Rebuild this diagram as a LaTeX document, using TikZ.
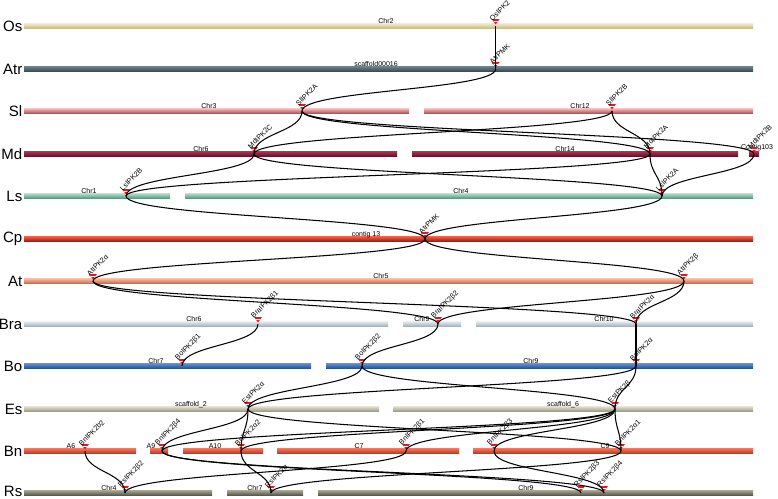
\documentclass[tikz,border=0pt]{standalone}
\usepackage{fontspec}
\setmainfont{Liberation Sans}
\usetikzlibrary{calc}
\definecolor{mk}{HTML}{E8141E}
\definecolor{osA}{HTML}{F0E6C0}\definecolor{osB}{HTML}{C8BA8C}
\definecolor{atrA}{HTML}{6A7E88}\definecolor{atrB}{HTML}{3A4A52}
\definecolor{slA}{HTML}{F8B4B4}\definecolor{slB}{HTML}{A8505A}
\definecolor{mdA}{HTML}{A8304E}\definecolor{mdB}{HTML}{5E1428}
\definecolor{lsA}{HTML}{A8DCC6}\definecolor{lsB}{HTML}{5C9480}
\definecolor{cpA}{HTML}{F05A40}\definecolor{cpB}{HTML}{9A1A14}
\definecolor{atA}{HTML}{F8B89C}\definecolor{atB}{HTML}{CC6A4C}
\definecolor{braA}{HTML}{E2E8EC}\definecolor{braB}{HTML}{A4B0B8}
\definecolor{boA}{HTML}{5A8CD8}\definecolor{boB}{HTML}{28508E}
\definecolor{esA}{HTML}{DEDCCC}\definecolor{esB}{HTML}{9C9A84}
\definecolor{bnA}{HTML}{F27058}\definecolor{bnB}{HTML}{B83A28}
\definecolor{rsA}{HTML}{A0A08C}\definecolor{rsB}{HTML}{55564A}
\tikzset{
  sp/.style={anchor=east, font=\fontsize{15}{15}\selectfont, inner sep=0pt},
  chrl/.style={anchor=base, font=\fontsize{7}{7}\selectfont, inner sep=0pt},
  genel/.style={anchor=south west, rotate=45, font=\fontsize{7.2}{7.2}\selectfont, inner sep=0pt},
  link/.style={draw=black, line width=1.05pt},
  marker/.style={fill=mk, draw=none}
}
% bar: #1 y, #2 x1, #3 x2, #4 light colour, #5 dark colour
\newcommand\mybar[5]{\shade[top color=#4, bottom color=#5] (#2,#1-2.3) rectangle (#3,#1+2.3);}
\newcommand\mygene[4]{% #1 name #2 x #3 y #4 label
  \coordinate (#1) at (#2,#3);
  \fill[marker] (#2-3.8,#3-6.8) -- (#2+3.8,#3-6.8) -- (#2,#3-1.6) -- cycle;
  \draw[white, line width=0.4pt] (#2-1.9,#3-4.9) -- (#2+1.9,#3-4.9);
  \node[genel] (#1l) at (#2-3,#3-4.5) {#4};}
\newcommand\lnk[2]{\path (#1) -- (#2) coordinate[pos=.5] (mid);
  \draw[link] (#1) .. controls (mid -| #1) and (mid -| #2) .. (#2);}
\begin{document}
\begin{tikzpicture}[x=1pt,y=-1pt]
\useasboundingbox (0,0) rectangle (778,498);
% species labels
\foreach \n/\y in {Os/26,Atr/69,Sl/111,Md/154,Ls/196,Cp/239,At/281,Bra/324,Bo/366,Es/409,Bn/451,Rs/491}
  \node[sp] (sp\n) at (22.5,\y) {\n};
% bars
\mybar{26}{24}{753}{osA}{osB}
\mybar{69}{24}{753}{atrA}{atrB}
\mybar{111}{24}{409}{slA}{slB}\mybar{111}{424}{753}{slA}{slB}
\mybar{154}{24}{397}{mdA}{mdB}\mybar{154}{412}{738}{mdA}{mdB}\mybar{154}{749}{759}{mdA}{mdB}
\mybar{196}{24}{170}{lsA}{lsB}\mybar{196}{185}{753}{lsA}{lsB}
\mybar{239}{24}{753}{cpA}{cpB}
\mybar{281}{24}{753}{atA}{atB}
\mybar{324}{24}{388}{braA}{braB}\mybar{324}{403}{461}{braA}{braB}\mybar{324}{476}{753}{braA}{braB}
\mybar{366}{24}{311}{boA}{boB}\mybar{366}{326}{753}{boA}{boB}
\mybar{409}{24}{379}{esA}{esB}\mybar{409}{393}{753}{esA}{esB}
\mybar{451}{24}{136}{bnA}{bnB}\mybar{451}{150}{168}{bnA}{bnB}\mybar{451}{183}{263}{bnA}{bnB}\mybar{451}{277}{459}{bnA}{bnB}\mybar{451}{473}{753}{bnA}{bnB}
\mybar{493}{24}{212}{rsA}{rsB}\mybar{493}{227}{303}{rsA}{rsB}\mybar{493}{318}{753}{rsA}{rsB}
% chromosome labels
\foreach \t/\x/\y [count=\i] in {Chr2/386/23, scaffold00016/376/66, Chr3/209/108, Chr12/580/108,
  Chr6/201/151, Chr14/565/151, Contig103/757/149, Chr1/89/193, Chr4/461/193, contig 13/366/236,
  Chr5/381/278, Chr6/194/321, Chr9/422/321, Chr10/604/321, Chr7/156/363, Chr9/531/363,
  scaffold\_2/191/406, scaffold\_6/563/406, A6/71/448, A9/151/448, A10/215/448, C7/359/448,
  C9/605/448, Chr4/109/490, Chr7/255/490, Chr9/526/490}
  \node[chrl] (chr\i) at (\x,\y) {\t};
% genes
\mygene{osipk}{495.7}{26}{OsIPK2}
\mygene{atrpmk}{495.7}{69}{AtrPMK}
\mygene{slA}{302}{111}{SlIPK2A}
\mygene{slB}{612}{111}{SlIPK2B}
\mygene{mdC}{254}{154}{MdIPK2C}
\mygene{mdA}{650}{154}{MdIPK2A}
\mygene{mdB}{754}{154}{MdIPK2B}
\mygene{lsB}{126}{196}{LsIPK2B}
\mygene{lsA}{662}{196}{LsIPK2A}
\mygene{cp}{425}{239}{AtrPMK}
\mygene{atA}{93}{281}{AtIPK2α}
\mygene{atB}{684}{281}{AtIPK2β}
\mygene{braB1}{258}{324}{BraIPK2β1}
\mygene{braB2}{438}{324}{BraIPK2β2}
\mygene{braA}{636}{324}{BraIPK2α}
\mygene{boB1}{182}{366}{BoIPK2β1}
\mygene{boB2}{362}{366}{BoIPK2β2}
\mygene{boA}{636}{366}{BoIPK2α}
\mygene{esA}{248}{409}{EsIPK2α}
\mygene{esB}{615}{409}{EsIPK2β}
\mygene{bnB2}{85}{451}{BnIPK2b2}
\mygene{bnB4}{162}{451}{BnIPK2β4}
\mygene{bnA2}{241}{451}{BnIPK2α2}
\mygene{bnB1}{406}{451}{BnIPK2β1}
\mygene{bnB3}{494}{451}{BnIPK2β3}
\mygene{bnA1}{621}{451}{BnIPK2α1}
\mygene{rsB2}{125}{493}{RsIPK2β2}
\mygene{rsA}{271}{493}{RsIPK2α}
\mygene{rsB3}{581}{493}{RsIPK2β3}
\mygene{rsB4}{604}{493}{RsIPK2β4}
% links
\draw[link] (osipk) -- (atrpmk);
\lnk{atrpmk}{slA}
\lnk{slA}{mdC}\lnk{slA}{mdA}\lnk{slA}{mdB}\lnk{slB}{mdC}\lnk{slB}{mdA}
\lnk{mdC}{lsB}\lnk{mdC}{lsA}\lnk{mdA}{lsB}\lnk{mdA}{lsA}\lnk{mdB}{lsA}
\lnk{lsB}{cp}\lnk{lsA}{cp}
\lnk{cp}{atA}\lnk{cp}{atB}
\lnk{atA}{braB2}\lnk{atA}{braA}\lnk{atB}{braB2}\lnk{atB}{braA}
\lnk{braB1}{boB1}\lnk{braB2}{boB2}\lnk{braA}{boA}
\lnk{boB2}{esA}\lnk{boB2}{esB}\lnk{boA}{esA}\lnk{boA}{esB}
\lnk{esA}{bnB4}\lnk{esA}{bnA2}\lnk{esA}{bnA1}
\lnk{esB}{bnB4}\lnk{esB}{bnA2}\lnk{esB}{bnB1}\lnk{esB}{bnB3}\lnk{esB}{bnA1}
\lnk{bnB2}{rsB2}\lnk{bnB1}{rsB2}\lnk{bnA2}{rsA}\lnk{bnA1}{rsA}
\lnk{bnB4}{rsB3}\lnk{bnB4}{rsB4}\lnk{bnB3}{rsB4}
\end{tikzpicture}
\end{document}
